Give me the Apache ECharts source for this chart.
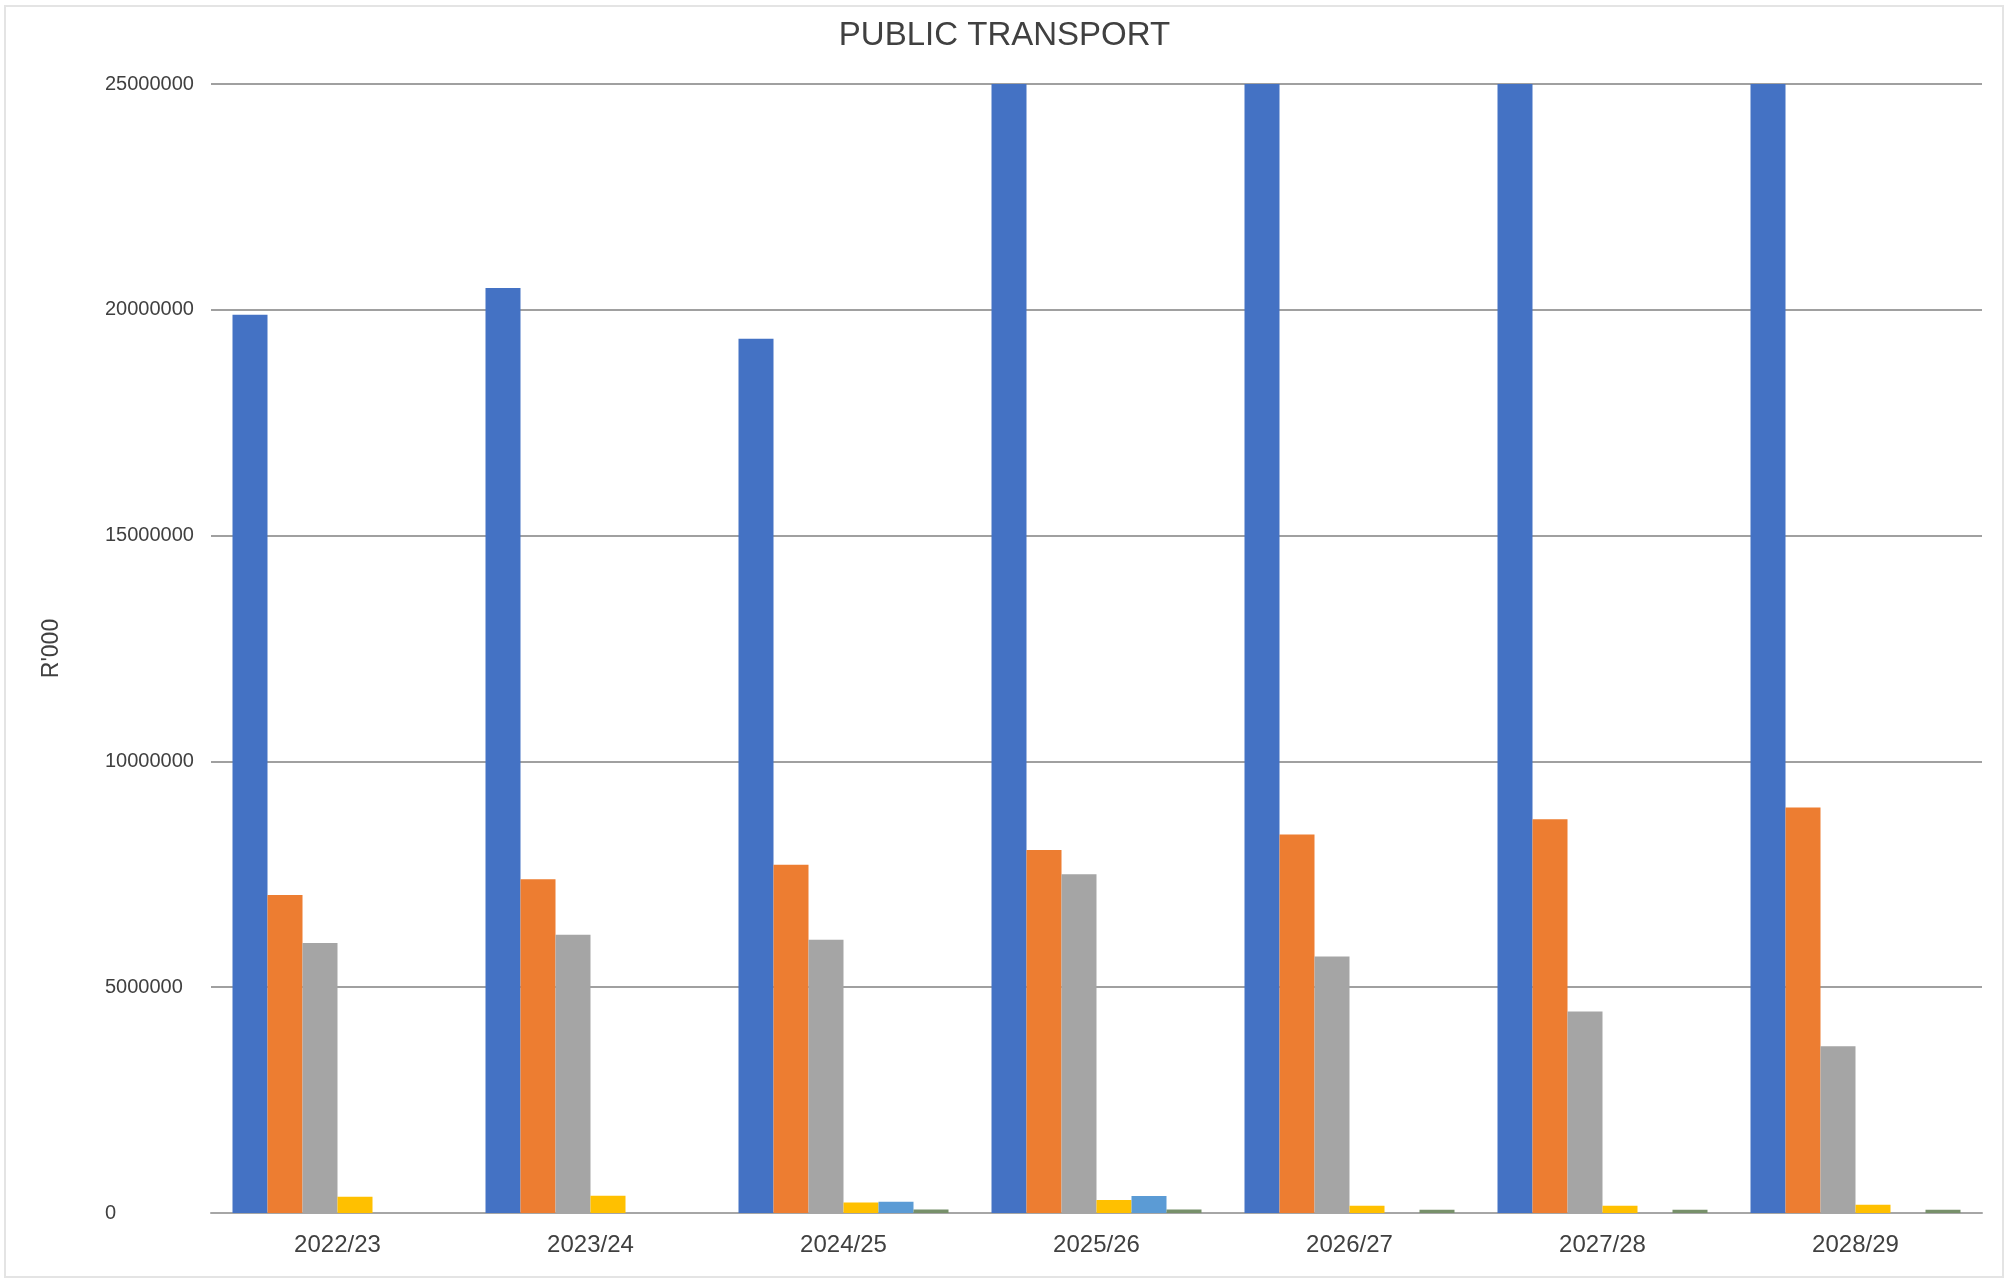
<!DOCTYPE html>
<html>
<head>
<meta charset="utf-8">
<script src="https://cdn.jsdelivr.net/npm/echarts@6/dist/echarts.min.js"></script>
<style>
html,body{margin:0;padding:0;background:#fff;}
#chart{width:2009px;height:1283px;}
</style>
</head>
<body>
<div id="chart"></div>
<script>
var categories = ['2022/23', '2023/24', '2024/25', '2025/26', '2026/27', '2027/28', '2028/29'];
var series1 = [19890000, 20480000, 19360000, 26500000, 27200000, 27900000, 28600000];
var series2 = [7040000, 7390000, 7710000, 8040000, 8380000, 8720000, 8980000];
var series3 = [5980000, 6160000, 6050000, 7500000, 5680000, 4460000, 3690000];
var series4 = [360000, 380000, 230000, 290000, 160000, 160000, 180000];
var series5 = [null, null, 250000, 376000, null, null, null];
var series6 = [null, null, 80000, 75000, 70000, 70000, 70000];
var yTicks = { min: 0, max: 25000000, interval: 5000000 };

var colors = ['#4472C4', '#ED7D31', '#A5A5A5', '#FFC000', '#5B9BD5', '#77906a'];
var seriesData = [series1, series2, series3, series4, series5, series6];
var names = ['Series1', 'Series2', 'Series3', 'Series4', 'Series5', 'Series6'];

var chart = echarts.init(document.getElementById('chart'), null, { renderer: 'canvas' });
var font = 'Liberation Sans, Arial, sans-serif';

chart.setOption({
  animation: false,
  backgroundColor: '#ffffff',
  title: {
    text: 'PUBLIC TRANSPORT',
    left: 'center',
    top: 14,
    textStyle: { fontFamily: font, fontSize: 33, fontWeight: 'normal', color: '#404040' }
  },
  grid: { left: 211, right: 27, top: 84, bottom: 70, containLabel: false },
  xAxis: {
    type: 'category',
    data: categories,
    axisLine: { show: true, lineStyle: { color: '#a6a6a6', width: 2 } },
    axisTick: { show: false },
    axisLabel: { margin: 20, fontFamily: font, fontSize: 24, color: '#404040' }
  },
  yAxis: {
    type: 'value',
    min: yTicks.min,
    max: yTicks.max,
    interval: yTicks.interval,
    name: "R'000",
    nameLocation: 'middle',
    nameGap: 148,
    nameTextStyle: { fontFamily: font, fontSize: 23, color: '#404040' },
    axisLine: { show: false },
    axisTick: { show: false },
    axisLabel: {
      align: 'left', margin: 106, fontFamily: font, fontSize: 20, color: '#404040',
      formatter: function (v) { return String(v); }
    },
    splitLine: { show: true, lineStyle: { color: '#a0a0a0', width: 2 } }
  },
  graphic: [{
    type: 'rect',
    shape: { x: 5, y: 6, width: 1998, height: 1271 },
    style: { fill: 'none', stroke: '#e4e4e4', lineWidth: 2 },
    silent: true,
    z: -1
  }],
  series: seriesData.map(function (d, i) {
    return {
      name: names[i],
      type: 'bar',
      data: d,
      barWidth: 35,
      barGap: '0%',
      clip: true,
      itemStyle: { color: colors[i] }
    };
  })
});
</script>
</body>
</html>
